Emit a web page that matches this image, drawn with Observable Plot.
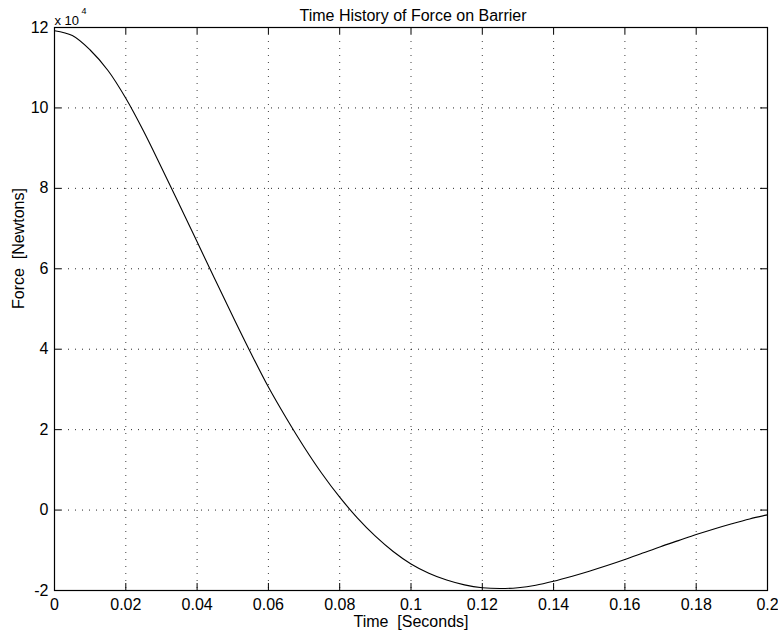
<!DOCTYPE html>
<html>
<head>
<meta charset="utf-8">
<script src="https://cdn.jsdelivr.net/npm/d3@7"></script>
<script src="https://cdn.jsdelivr.net/npm/@observablehq/plot@0.6"></script>
<style>
  html, body { margin: 0; padding: 0; background: #fff; }
  svg text { white-space: pre; }
</style>
</head>
<body>
<div id="chart"></div>
<script>
// Time (s)
const time = [0, 0.005, 0.01, 0.015, 0.02, 0.025, 0.03, 0.035, 0.04, 0.045, 0.05,
  0.055, 0.06, 0.065, 0.07, 0.075, 0.08, 0.085, 0.09, 0.095, 0.1,
  0.105, 0.11, 0.115, 0.12, 0.125, 0.13, 0.135, 0.14, 0.145, 0.15,
  0.155, 0.16, 0.165, 0.17, 0.175, 0.18, 0.185, 0.19, 0.195, 0.2];
// Force in units of 10^4 Newtons
const forceE4 = [11.92, 11.80, 11.44, 10.93, 10.24, 9.42, 8.52, 7.60, 6.67, 5.74, 4.82,
  3.92, 3.06, 2.29, 1.57, 0.91, 0.32, -0.20, -0.65, -1.03, -1.34,
  -1.57, -1.74, -1.86, -1.93, -1.95, -1.93, -1.87, -1.77, -1.65, -1.52,
  -1.38, -1.23, -1.07, -0.91, -0.76, -0.61, -0.47, -0.34, -0.22, -0.12];
const xTicks = [0, 0.02, 0.04, 0.06, 0.08, 0.1, 0.12, 0.14, 0.16, 0.18, 0.2];
const xTickLabels = ["0", "0.02", "0.04", "0.06", "0.08", "0.1", "0.12", "0.14", "0.16", "0.18", "0.2"];
const yTicks = [-2, 0, 2, 4, 6, 8, 10, 12];
const yTickLabels = ["-2", "0", "2", "4", "6", "8", "10", "12"];
const titleText = "Time History of Force on Barrier";
const xLabel = "Time\u00a0\u00a0[Seconds]";
const yLabel = "Force\u00a0\u00a0[Newtons]";
const exponentBase = "x 10";
const exponent = "4";

const data = time.map((t, i) => ({t, f: forceE4[i]}));

const W = 778, H = 636;
const mL = 54, mR = 11, mT = 27, mB = 46;
const plotW = W - mL - mR, plotH = H - mT - mB;
const tickLen = 7;
const font = "'Liberation Sans', Arial, Helvetica, sans-serif";

const gridX = xTicks.filter(d => d > 0 && d < 0.2);
const gridY = yTicks.filter(d => d > -2 && d < 12);

const chart = Plot.plot({
  width: W,
  height: H,
  marginLeft: mL,
  marginRight: mR,
  marginTop: mT,
  marginBottom: mB,
  style: {fontFamily: font, fontSize: "16px", background: "#fff", color: "#000", overflow: "visible"},
  x: {domain: [0, 0.2]},
  y: {domain: [-2, 12]},
  marks: [
    Plot.gridX(gridX, {stroke: "#000", strokeOpacity: 0.75, strokeDasharray: "1,6"}),
    Plot.gridY(gridY, {stroke: "#000", strokeOpacity: 0.85, strokeDasharray: "1,6"}),
    Plot.line(data, {x: "t", y: "f", stroke: "#000", strokeWidth: 1.1, curve: "catmull-rom"}),
    Plot.tickX(xTicks, {x: d => d, insetTop: plotH - tickLen, stroke: "#000"}),
    Plot.tickX(xTicks, {x: d => d, insetBottom: plotH - tickLen, stroke: "#000"}),
    Plot.tickY(yTicks, {y: d => d, insetRight: plotW - tickLen, stroke: "#000"}),
    Plot.tickY(yTicks, {y: d => d, insetLeft: plotW - tickLen, stroke: "#000"}),
    Plot.frame({stroke: "#000", strokeWidth: 1.2}),
    Plot.axisX(xTicks, {tickSize: 0, tickPadding: 8, fontSize: 16, tickFormat: d => xTickLabels[xTicks.indexOf(d)], label: null}),
    Plot.axisY(yTicks, {tickSize: 0, tickPadding: 6, fontSize: 16, tickFormat: d => yTickLabels[yTicks.indexOf(d)], label: null}),
    Plot.text([titleText], {frameAnchor: "top", dy: -18, dx: 2, fontSize: 16, fill: "#000"}),
    Plot.text([exponentBase], {frameAnchor: "top-left", textAnchor: "start", dy: -12, dx: 0, fontSize: 13, fill: "#000"}),
    Plot.text([exponent], {frameAnchor: "top-left", textAnchor: "start", dy: -20, dx: 27, fontSize: 9, fill: "#000"}),
    Plot.text([xLabel], {frameAnchor: "bottom", dy: 36, fontSize: 16, fill: "#000"}),
    Plot.text([yLabel], {frameAnchor: "left", dx: -36, rotate: -90, fontSize: 16, fill: "#000"})
  ]
});
document.getElementById("chart").appendChild(chart);
</script>
</body>
</html>
